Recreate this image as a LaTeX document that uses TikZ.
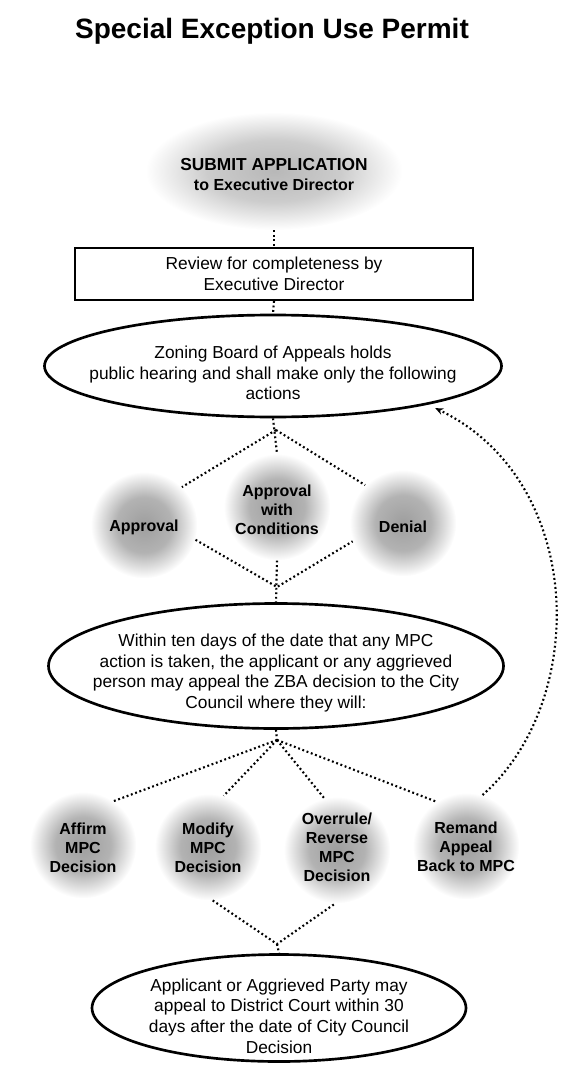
\documentclass[tikz,border=0pt]{standalone}
\usepackage{fontspec}
\setmainfont{Liberation Sans}
\usetikzlibrary{shapes.geometric,arrows.meta}

\pgfdeclareradialshading{haze}{\pgfpoint{0bp}{0bp}}{color(0bp)=(black!38); color(13bp)=(black!30); color(25bp)=(white); color(50bp)=(white)}
\pgfdeclareradialshading{mist}{\pgfpoint{0bp}{0bp}}{color(0bp)=(black!28); color(13bp)=(black!20); color(25bp)=(white); color(50bp)=(white)}

\tikzset{
  oval/.style={ellipse, draw, line width=2pt, inner sep=0pt},
  blob/.style={circle, shading=haze, inner sep=0pt, minimum size=80pt},
  dotline/.style={line width=1.6pt, dash pattern=on 1.4pt off 2pt},
  plain/.style={align=center, font=\fontsize{13}{15.4}\selectfont},
  tag/.style={align=center, font=\fontsize{12}{14.2}\selectfont\bfseries},
}

\begin{document}
\begin{tikzpicture}[x=0.75pt, y=-0.75pt]
  \useasboundingbox (0,0) rectangle (580,1091);

  % title
  \node[font=\fontsize{21}{24}\selectfont\bfseries] (title) at (272,31) {Special Exception Use Permit};

  % application and review
  \node[ellipse, shading=mist, minimum width=192.75pt, minimum height=88.5pt] (submit) at (274,171) {};
  \node[align=center, font=\fontsize{13}{15}\selectfont\bfseries] (submittxt) at (274,175)
    {SUBMIT APPLICATION\\{\fontsize{12}{15}\selectfont to Executive Director}};
  \node[draw, line width=1.5pt, minimum width=298.5pt, minimum height=39pt, plain] (review) at (274,274)
    {Review for completeness by\\Executive Director};

  % zoning board
  \node[oval, minimum width=342.75pt, minimum height=76.5pt] (zba) at (273,366) {};
  \node[plain] (zbatxt) at (273,373) {Zoning Board of Appeals holds\\public hearing and shall make only the following\\actions};

  \node[blob] (appr) at (144,525) {};
  \node[tag] (apprtxt) at (144,527) {Approval};
  \node[blob] (awc) at (277,507) {};
  \node[tag] (awctxt) at (277,510) {Approval\\with\\Conditions};
  \node[blob] (deny) at (403,523) {};
  \node[tag] (denytxt) at (403,527) {Denial};

  % city council
  \node[oval, minimum width=341.25pt, minimum height=93.75pt] (mpc) at (276,666) {};
  \node[plain] (mpctxt) at (276,673) {Within ten days of the date that any MPC\\action is taken, the applicant or any aggrieved\\person may appeal the ZBA decision to the City\\Council where they will:};

  \node[blob] (affirm) at (83,845) {};
  \node[tag] (affirmtxt) at (83,848) {Affirm\\MPC\\Decision};
  \node[blob] (modify) at (208,847) {};
  \node[tag] (modifytxt) at (208,848) {Modify\\MPC\\Decision};
  \node[blob] (overrule) at (337,850) {};
  \node[tag] (overruletxt) at (337,847) {Overrule/\\Reverse\\MPC\\Decision};
  \node[blob] (remand) at (466,846) {};
  \node[tag] (remandtxt) at (466,847) {Remand\\Appeal\\Back to MPC};

  % district court
  \node[oval, minimum width=280.5pt, minimum height=80.25pt] (court) at (279,1008) {};
  \node[plain] (courttxt) at (279,1016) {Applicant or Aggrieved Party may\\appeal to District Court within 30\\days after the date of City Council\\Decision};

  % connectors
  \coordinate (split) at (276,430);
  \coordinate (merge) at (277,587);
  \coordinate (fan) at (277,740);
  \coordinate (merge2) at (277,944);

  \draw[dotline] (submit.south) -- (review.north);
  \draw[dotline] (review.south) -- (zba.north);
  \draw[dotline] (zba.south) -- (awc.north);
  \draw[dotline] (split) -- (appr.45);
  \draw[dotline] (split) -- (deny.135);
  \draw[dotline] (appr.-16) -- (merge) -- (deny.200);
  \draw[dotline] (awc.south) -- (mpc.north);
  \draw[dotline] (mpc.south) -- (fan);
  \foreach \n/\a in {affirm/55, modify/73, overrule/104, remand/124}
    \draw[dotline] (fan) -- (\n.\a);
  \draw[dotline] (modify.-85) -- (merge2) -- (overrule.-92);
  \draw[dotline] (merge2) -- (court.north);
  \draw[dotline, -{Stealth[length=6pt, width=5pt, open]}, shorten >=6pt]
    (remand.72) .. controls (590,700) and (585,480) .. (zba.-14);
\end{tikzpicture}
\end{document}
